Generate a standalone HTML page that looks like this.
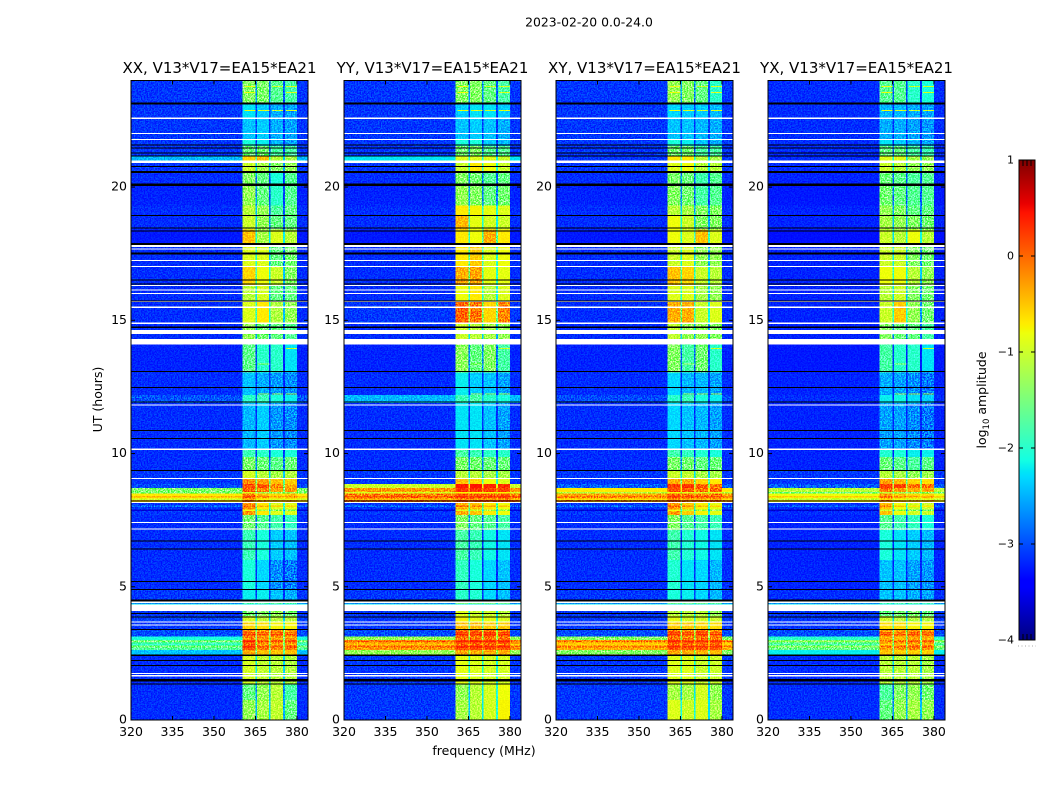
<!DOCTYPE html>
<html lang="en">
<head>
<meta charset="utf-8">
<title>2023-02-20 0.0-24.0</title>
<style>
html,body{margin:0;padding:0;background:#fff;width:1050px;height:800px;overflow:hidden}
svg{display:block}
text{font-family:"DejaVu Sans","Liberation Sans",sans-serif;fill:#000}
</style>
</head>
<body>
<svg id="figure" xmlns="http://www.w3.org/2000/svg" width="1050" height="800" viewBox="0 0 1050 800">
<defs>
<filter id="speckle" x="0" y="0" width="100%" height="100%" color-interpolation-filters="sRGB">
<feTurbulence type="fractalNoise" baseFrequency="0.7" numOctaves="2" seed="4"/>
<feColorMatrix type="matrix" values="1 0 0 0 0 1 0 0 0 0 1 0 0 0 0 0 0 0 0 1"/>
<feComponentTransfer><feFuncR type="linear" slope="3.5" intercept="-1.3"/><feFuncG type="linear" slope="3.5" intercept="-1.3"/><feFuncB type="linear" slope="3.5" intercept="-1.3"/></feComponentTransfer>
</filter>
<linearGradient id="jet-gradient" x1="0" y1="1" x2="0" y2="0">
<stop offset="0" stop-color="rgb(0,0,128)"/><stop offset="0.11" stop-color="rgb(0,0,255)"/><stop offset="0.125" stop-color="rgb(0,0,255)"/><stop offset="0.34" stop-color="rgb(0,219,255)"/><stop offset="0.35" stop-color="rgb(0,229,247)"/><stop offset="0.375" stop-color="rgb(20,255,226)"/><stop offset="0.64" stop-color="rgb(238,255,11)"/><stop offset="0.65" stop-color="rgb(247,245,0)"/><stop offset="0.66" stop-color="rgb(255,236,0)"/><stop offset="0.89" stop-color="rgb(255,18,0)"/><stop offset="0.91" stop-color="rgb(232,0,0)"/><stop offset="1" stop-color="rgb(128,0,0)"/>
</linearGradient>
</defs>
<text x="589" y="26.5" font-size="12.4" text-anchor="middle">2023-02-20 0.0-24.0</text>
<text x="484" y="755" font-size="12.5" text-anchor="middle">frequency (MHz)</text>
<text transform="translate(102 399.5) rotate(-90)" font-size="12.5" text-anchor="middle">UT (hours)</text>
<text transform="translate(986 400) rotate(-90)" font-size="12.5" text-anchor="middle">log<tspan font-size="8.5" dy="3">10</tspan><tspan dy="-3"> amplitude</tspan></text>
<g id="panels"></g>
<g id="colorbar">
<rect x="1019" y="160" width="16" height="480" fill="url(#jet-gradient)"/>
</g>
<line x1="1018" y1="646" x2="1036" y2="646" stroke="#aaa" stroke-width="1" stroke-dasharray="1 2.5"/>
</svg>
<script>
// Time-segment lower edges in UT hours (last entry closes the final segment)
const utEdges = [0,0.75,1.35,2.44,2.63,3.0,3.13,3.38,3.68,3.9,4.45,4.9,6.0,7.13,7.7,8.15,8.55,8.7,8.85,9.07,9.37,9.87,10.16,11.9,12.2,13.05,14.09,14.89,15.75,16.3,17.0,17.9,18.4,18.95,19.3,20.07,20.56,20.95,21.17,21.55,21.8,22.6,23.13,24];
// Frequency edges (MHz) of the sub-bands: background, band, gap, band, gap, band, gap, band, background
const freqEdges = [320,360.4,365.1,365.6,369.9,370.5,375,375.6,380,384];
const freqTicks = [320,335,350,365,380];
const utTicks = [0,5,10,15,20];
const colorTicks = [-4,-3,-2,-1,0,1];
const colorMin = -4;
const colorMax = 1;
const gapDrop = 1.2;
const panelKeys = ['xx','yy','xy','yx'];
const panelTitles = ['XX, V13*V17=EA15*EA21','YY, V13*V17=EA15*EA21','XY, V13*V17=EA15*EA21','YX, V13*V17=EA15*EA21'];
// log10 amplitude per time segment: [background, band1, band2, band3, band4]
const xxRows = [
[-3.15,-1.3,-1.2,-1.05,-1.6],[-3.15,-1.6,-1.3,-1.1,-1.8],[-3.15,-0.95,-1.05,-1.1,-1.15],[-2.4,-0.4,-0.5,-0.5,-0.5],
[-1.75,0.1,-0.15,-0.2,-0.15],[-2.1,-0.2,-0.3,-0.3,-0.3],[-3,-0.2,-0.3,-0.25,-0.3],[-3.1,-0.6,-0.65,-0.75,-0.75],
[-3.05,-0.95,-1.05,-1.1,-1.1],[-3.1,-1.5,-1.4,-1.3,-1.5],[-3.1,-2.2,-2.2,-2.4,-2.5],[-3.15,-2.1,-2.3,-2.65,-2.75],
[-3.15,-1.9,-2.1,-2.35,-2.4],[-3.15,-1.5,-1.7,-1.85,-1.95],[-3.1,-0.3,-0.7,-0.9,-0.9],[-0.7,-0.1,-0.45,-0.6,-0.5],
[-1.45,0,-0.2,-0.35,-0.3],[-3,0.1,0.05,-0.2,-0.4],[-3.1,-0.25,-0.35,-0.5,-0.55],[-3.1,-0.95,-1.1,-1.2,-1.15],
[-3.15,-1.45,-1.55,-1.65,-1.55],[-3.15,-1.9,-2,-2.1,-2.1],[-3.15,-2.45,-2.35,-2.6,-2.65],[-2.95,-2,-1.9,-2.1,-2.2],
[-3.15,-2.4,-2.5,-2.6,-2.65],[-3.2,-1.65,-2,-2,-2.25],[-3.15,-1.3,-1.5,-1.6,-1.7],[-3.15,-0.9,-0.7,-1.15,-1.3],
[-3.15,-1.1,-0.95,-1.6,-1.6],[-3.15,-0.6,-0.8,-1,-1.4],[-3.15,-0.9,-0.9,-1.6,-1.5],[-3.25,-0.5,-1.2,-0.9,-1.1],
[-3.15,-1,-1.3,-1.6,-1.6],[-3.15,-1.1,-1.3,-1.75,-1.6],[-3.2,-1.3,-1.6,-2,-1.7],[-3.15,-1.4,-1.6,-2.1,-1.7],
[-3.1,-1,-1.2,-1.4,-1.3],[-2.45,-0.6,-0.5,-1.1,-1.2],[-3.1,-1.55,-1.5,-1.8,-1.8],[-3.1,-2.1,-2.2,-2.45,-2.55],
[-3.1,-2.4,-2.35,-2.5,-2.55],[-3.1,-2.25,-2.35,-2.5,-2.55],[-3.1,-1.4,-1.45,-1.7,-1.8]
];
const yyRows = [
[-3.1,-1.2,-1.1,-0.95,-0.75],[-3.1,-1.3,-1.1,-0.95,-0.8],[-3.1,-0.85,-0.9,-0.95,-0.95],[-1.3,-0.35,-0.4,-0.4,-0.4],
[-0.3,0.1,0.15,0.1,0.1],[-1.3,-0.1,-0.1,-0.1,-0.1],[-3,-0.05,-0.1,-0.05,-0.1],[-3.1,-0.5,-0.5,-0.55,-0.55],
[-3.1,-0.75,-0.85,-0.85,-0.9],[-3.1,-0.9,-1,-1,-1.1],[-3.1,-2,-2.05,-2.3,-2.4],[-3.15,-1.95,-2.1,-2.3,-2.4],
[-3.15,-1.8,-1.9,-2.15,-2.25],[-3.15,-1.4,-1.6,-1.7,-1.8],[-3.1,-0.4,-0.5,-0.7,-0.8],[-0.15,0.05,0,0,0.05],
[-0.3,0.25,0.25,0.2,0.2],[-1,0.4,0.45,0.35,0.3],[-3.1,-0.5,-0.6,-0.8,-0.9],[-3.1,-1.1,-1.1,-1.2,-1.2],
[-3.15,-1.45,-1.5,-1.55,-1.55],[-3.15,-1.8,-1.9,-2,-2],[-3.15,-2.25,-2.25,-2.4,-2.55],[-2.45,-1.9,-1.8,-2,-2.1],
[-3.15,-2.2,-2.35,-2.4,-2.55],[-3.2,-1.35,-1.6,-1.4,-1.8],[-3.15,-1,-1.1,-1.2,-1.3],[-3.1,0,-0.1,-0.6,-0.2],
[-3.15,-0.8,-0.7,-1.1,-0.9],[-3.15,-0.4,-0.35,-0.85,-0.85],[-3.15,-0.7,-0.55,-0.9,-0.8],[-3.25,-0.7,-0.8,-0.4,-0.7],
[-3.15,-0.45,-0.85,-0.95,-1],[-3.15,-0.7,-0.75,-0.85,-0.9],[-3.2,-1.3,-1.4,-1.6,-1.5],[-3.15,-1.4,-1.5,-1.7,-1.6],
[-3.1,-1,-0.7,-0.8,-1],[-2.25,-0.9,-0.9,-0.9,-1],[-3.1,-1.5,-1.4,-1.7,-1.7],[-3.1,-2.1,-2.1,-2.35,-2.45],
[-3.1,-2.4,-2.35,-2.4,-2.5],[-3.1,-2.35,-2.25,-2.25,-2.35],[-3.1,-1.4,-1.4,-1.6,-1.8]
];
const xyRows = [
[-3.1,-0.9,-1,-0.9,-1.2],[-3.1,-1.2,-1.2,-0.95,-1.3],[-3.1,-0.9,-0.9,-1,-1],[-1.4,-0.35,-0.4,-0.4,-0.45],
[-0.4,0.1,0.05,0.05,0.05],[-1.4,-0.1,-0.2,-0.1,-0.15],[-3,-0.1,-0.2,-0.1,-0.2],[-3.1,-0.55,-0.55,-0.6,-0.65],
[-3.1,-0.85,-0.95,-0.95,-1],[-3.1,-1.1,-1.1,-1.1,-1.3],[-3.1,-2.1,-2.2,-2.3,-2.45],[-3.15,-2.05,-2.25,-2.3,-2.45],
[-3.15,-1.85,-2.05,-2.15,-2.25],[-3.15,-1.4,-1.7,-1.8,-1.9],[-3.1,-0.3,-0.55,-0.75,-0.85],[-0.35,0,-0.1,-0.15,-0.1],
[-0.7,0.1,0.05,-0.1,-0.05],[-2.9,0.2,0.25,0,-0.1],[-3.1,-0.4,-0.4,-0.6,-0.7],[-3.1,-1,-1.05,-1.2,-1.2],
[-3.15,-1.45,-1.5,-1.6,-1.55],[-3.15,-1.85,-1.95,-2.05,-2.1],[-3.15,-2.3,-2.4,-2.45,-2.55],[-3,-2,-1.9,-2.1,-2.2],
[-3.15,-2.3,-2.45,-2.45,-2.55],[-3.2,-1.4,-1.8,-1.5,-2],[-3.15,-1.05,-1.3,-1.3,-1.4],[-3.15,-0.4,-0.4,-1,-0.9],
[-3.15,-0.9,-0.9,-1.2,-1.3],[-3.15,-0.5,-0.6,-1,-1.1],[-3.15,-1,-0.9,-1.3,-1.3],[-3.25,-0.8,-0.9,-0.5,-0.9],
[-3.15,-0.8,-1,-1.4,-1.4],[-3.15,-1.1,-1.2,-1.4,-1.4],[-3.2,-1.4,-1.5,-1.8,-1.7],[-3.15,-1.45,-1.55,-1.85,-1.7],
[-3.1,-0.9,-0.8,-1.1,-1.1],[-3.1,-0.7,-0.7,-1.1,-1.2],[-3.1,-1.5,-1.5,-1.8,-1.8],[-3.1,-2.1,-2.2,-2.4,-2.5],
[-3.1,-2.4,-2.4,-2.45,-2.5],[-3.1,-2.3,-2.35,-2.35,-2.45],[-3.1,-1.3,-1.4,-1.6,-2]
];
const yxRows = [
[-3.15,-1.6,-1.3,-1.2,-1.3],[-3.15,-1.75,-1.4,-1.3,-1.5],[-3.15,-1.1,-1.1,-1.1,-1.2],[-2.2,-0.5,-0.55,-0.55,-0.55],
[-1.6,-0.35,-0.3,-0.2,-0.25],[-2,-0.4,-0.45,-0.35,-0.4],[-3,-0.3,-0.35,-0.25,-0.3],[-3.1,-0.65,-0.65,-0.75,-0.75],
[-3.1,-1,-1.1,-1.15,-1.15],[-3.1,-1.6,-1.5,-1.45,-1.6],[-3.15,-2.4,-2.4,-2.5,-2.55],[-3.2,-2.4,-2.4,-2.55,-2.6],
[-3.2,-2.1,-2.25,-2.35,-2.45],[-3.2,-1.7,-1.85,-1.95,-2.1],[-3.15,-0.5,-0.8,-0.95,-1],[-0.8,-0.3,-0.5,-0.6,-0.6],
[-1.1,-0.15,-0.3,-0.4,-0.35],[-2.9,0.2,0.2,-0.05,-0.1],[-3.1,-0.35,-0.45,-0.6,-0.65],[-3.1,-1.1,-1.2,-1.3,-1.25],
[-3.2,-1.55,-1.65,-1.75,-1.65],[-3.2,-2.05,-2.1,-2.2,-2.2],[-3.2,-2.55,-2.55,-2.65,-2.75],[-3.15,-2.2,-2.15,-2.25,-2.35],
[-3.2,-2.5,-2.55,-2.65,-2.75],[-3.25,-1.8,-2,-2,-2.25],[-3.2,-1.4,-1.55,-1.6,-1.8],[-3.2,-1,-0.55,-1.3,-1.5],
[-3.2,-1.1,-1,-1.4,-1.5],[-3.2,-0.8,-0.8,-1.1,-1.3],[-3.2,-1,-1,-1.4,-1.5],[-3.3,-1,-1.1,-0.8,-1.1],
[-3.2,-1.2,-1.3,-1.4,-1.5],[-3.2,-1.3,-1.4,-1.6,-1.6],[-3.25,-1.5,-1.6,-1.7,-1.7],[-3.2,-1.55,-1.65,-1.75,-1.7],
[-3.15,-1,-1.1,-1.3,-1.3],[-3.15,-0.9,-0.9,-1.2,-1.3],[-3.15,-1.6,-1.6,-1.8,-1.9],[-3.15,-2.25,-2.35,-2.45,-2.55],
[-3.15,-2.5,-2.5,-2.55,-2.6],[-3.15,-2.45,-2.45,-2.5,-2.55],[-3.15,-1.7,-1.7,-2,-2.1]
];
const panelRows = [xxRows, yyRows, xyRows, yxRows];
// Narrow interference streaks: UT hour, frequency span (MHz), log10 amplitude
const rfiHours = [23.16,23.16,23.78,23.78,23.78,23.55,23.55,22.88,22.88,22.88,22.88,13.95,13.36,12.23,12.23,12.23,4.36];
const rfiLows = [320,351,361,371,376,361,376,361,366,371,376,376,366,366,371,376,320];
const rfiHighs = [335,356,365,375,380,365,380,365,370,375,380,380,370,370,375,380,384];
const rfiLevels = [-0.9,-1.4,-0.8,-1,-0.9,-0.8,-0.9,-0.8,-0.9,-1,-0.9,-1,-1.3,-1.2,-1.2,-1.2,-2.2];
// Thin row-wide stripes: UT hour and amplitude change relative to the surrounding segment
const stripeHours = [8.52,8.38,8.29,8.22,8.03,7.88,3.27,3.2,2.96,2.85,2.74];
const stripeShifts = [-0.8,0.25,-0.3,0.2,0.3,-0.5,0.3,0.4,0.3,-0.2,0.25];
// Flagged intervals in UT hours: no data drawn white, zero data drawn black
const blankStarts = [22.56,21.99,21.77,20.90,17.76,17.66,17.23,17.00,16.29,16.11,15.98,15.69,15.47,14.87,14.48,14.09,11.80,10.14,9.05,8.15,7.40,7.14,4.39,4.10,3.65,3.54,1.73,1.64];
const blankEnds = [22.62,22.03,21.81,20.99,17.84,17.70,17.27,17.04,16.33,16.15,16.02,15.73,15.51,14.91,14.63,14.30,11.84,10.18,9.09,8.19,7.44,7.18,4.44,4.33,3.69,3.58,1.77,1.68];
const zeroStarts = [23.09,21.56,21.45,21.26,21.14,20.76,20.52,20.05,18.92,18.44,18.33,17.83,17.47,16.50,16.34,15.71,14.72,13.06,12.46,11.91,10.85,10.55,9.35,8.20,6.69,6.39,5.18,4.88,4.44,3.97,3.84,3.37,2.41,2.21,2.02,1.45,1.33];
const zeroEnds = [23.17,21.60,21.49,21.30,21.18,20.80,20.60,20.13,18.96,18.48,18.37,17.91,17.55,16.54,16.38,15.75,14.76,13.10,12.50,11.95,10.89,10.59,9.39,8.24,6.73,6.43,5.22,4.92,4.52,4.01,3.88,3.41,2.45,2.25,2.06,1.53,1.37];

const NS = 'http://www.w3.org/2000/svg';
const panelLefts = [131,344,556,768];
const plotWidth = 177;
const plotTop = 80.5;
const plotBottom = 720;
const root = document.getElementById('panels');

function make(parent, tag, attrs, text) {
  const el = document.createElementNS(NS, tag);
  for (const k in attrs) el.setAttribute(k, attrs[k]);
  if (text !== undefined) el.textContent = text;
  parent.appendChild(el);
  return el;
}
function yOf(ut) { return plotBottom - (ut / 24) * (plotBottom - plotTop); }
function xScale(left) { return function (f) { return left + ((f - 320) / 64) * plotWidth; }; }
function lerpStops(stops, p) {
  for (let i = 1; i < stops.length; i++) {
    if (p <= stops[i][0]) {
      const t = (p - stops[i - 1][0]) / (stops[i][0] - stops[i - 1][0]);
      return stops[i - 1][1] + t * (stops[i][1] - stops[i - 1][1]);
    }
  }
  return stops[stops.length - 1][1];
}
const jetR = [[0,0],[0.35,0],[0.66,1],[0.89,1],[1,0.5]];
const jetG = [[0,0],[0.125,0],[0.375,1],[0.64,1],[0.91,0],[1,0]];
const jetB = [[0,0.5],[0.11,1],[0.34,1],[0.65,0],[1,0]];
function colorOf(v) {
  const p = Math.max(0, Math.min(1, (v - colorMin) / (colorMax - colorMin)));
  return 'rgb(' + Math.round(255 * lerpStops(jetR, p)) + ',' + Math.round(255 * lerpStops(jetG, p)) + ',' + Math.round(255 * lerpStops(jetB, p)) + ')';
}
function columnLevels(row) {
  const gap = function (a, b) { return Math.max(row[0], (a + b) / 2 - gapDrop); };
  return [row[0], row[1], gap(row[1], row[2]), row[2], gap(row[2], row[3]), row[3], gap(row[3], row[4]), row[4], row[0]];
}
function rowIndexAt(h) {
  for (let i = 0; i < utEdges.length - 1; i++) {
    if (h >= utEdges[i] && h < utEdges[i + 1]) return i;
  }
  return utEdges.length - 2;
}

panelKeys.forEach(function (key, pi) {
  const left = panelLefts[pi];
  const xOf = xScale(left);
  const rows = panelRows[pi];
  const g = make(root, 'g', {});
  
  

  const cells = make(g, 'g', { 'shape-rendering': 'crispEdges' });
  
  
  rows.forEach(function (row, ri) {
    const levels = columnLevels(row);
    const yTop = yOf(utEdges[ri + 1]);
    const yBottom = yOf(utEdges[ri]);
    levels.forEach(function (v, ci) {
      const x0 = xOf(freqEdges[ci]);
      const x1 = xOf(freqEdges[ci + 1]);
      const cell = make(cells, 'rect', { x: x0, y: yTop, width: x1 - x0, height: yBottom - yTop, fill: colorOf(v) });
      
      
    });
  });

  stripeHours.forEach(function (h, i) {
    const levels = columnLevels(rows[rowIndexAt(h)]);
    levels.forEach(function (v, ci) {
      const isBackground = ci === 0 || ci === 8;
      const level = (isBackground && h > 3 && h < 3.38) ? v : v + stripeShifts[i];
      const x0 = xOf(freqEdges[ci]);
      const x1 = xOf(freqEdges[ci + 1]);
      const stripe = make(cells, 'rect', { x: x0, y: yOf(h) - 0.75, width: x1 - x0, height: 1.5, fill: colorOf(level) });
      
      
    });
  });

  rfiHours.forEach(function (h, i) {
    const x0 = xOf(rfiLows[i]);
    const x1 = xOf(rfiHighs[i]);
    const streak = make(cells, 'rect', { x: x0, y: yOf(h) - 0.5, width: x1 - x0, height: 1, fill: colorOf(rfiLevels[i]) });
    
    
  });

  const noise = make(g, 'rect', { x: left, y: plotTop, width: plotWidth, height: plotBottom - plotTop, filter: 'url(#speckle)', opacity: '0.75', style: 'mix-blend-mode:overlay' });
  
  

  const flags = make(g, 'g', { 'shape-rendering': 'crispEdges' });
  
  
  blankStarts.forEach(function (s, i) {
    const yA = yOf(blankEnds[i]);
    const band = make(flags, 'rect', { x: left, y: yA, width: plotWidth, height: yOf(s) - yA, fill: '#fff' });
    
    
  });
  zeroStarts.forEach(function (s, i) {
    const yA = yOf(zeroEnds[i]);
    const band = make(flags, 'rect', { x: left, y: yA, width: plotWidth, height: yOf(s) - yA, fill: '#000' });
    
    
  });

  const frame = make(g, 'rect', { x: left, y: plotTop, width: plotWidth, height: plotBottom - plotTop, fill: 'none', stroke: '#000', 'stroke-width': 1 });
  
  

  freqTicks.forEach(function (f) {
    const x = xOf(f);
    const bottomTick = make(g, 'line', { x1: x, y1: plotBottom, x2: x, y2: plotBottom - 4, stroke: '#000' });
    
    
    const topTick = make(g, 'line', { x1: x, y1: plotTop, x2: x, y2: plotTop + 4, stroke: '#000' });
    
    
    const label = make(g, 'text', { x: x, y: 736, 'font-size': 12.5, 'text-anchor': 'middle' }, String(f));
    
    
  });
  utTicks.forEach(function (u) {
    const y = yOf(u);
    const leftTick = make(g, 'line', { x1: left, y1: y, x2: left + 4, y2: y, stroke: '#000' });
    
    
    const rightTick = make(g, 'line', { x1: left + plotWidth, y1: y, x2: left + plotWidth - 4, y2: y, stroke: '#000' });
    
    
    const label = make(g, 'text', { x: left - 4, y: y + 3.5, 'font-size': 12.5, 'text-anchor': 'end' }, String(u));
    
    
  });
  const title = make(g, 'text', { x: left + plotWidth / 2, y: 73, 'font-size': 15, 'text-anchor': 'middle' }, panelTitles[pi]);
  
  
});

const bar = document.getElementById('colorbar');
const barFrame = make(bar, 'rect', { x: 1019, y: 160, width: 16, height: 480, fill: 'none', stroke: '#000' });


function barY(v) { return 640 - ((v - colorMin) / (colorMax - colorMin)) * 480; }
colorTicks.forEach(function (v) {
  const y = barY(v);
  const tickA = make(bar, 'line', { x1: 1019, y1: y, x2: 1023, y2: y, stroke: '#000' });
  
  
  const tickB = make(bar, 'line', { x1: 1035, y1: y, x2: 1031, y2: y, stroke: '#000' });
  
  
  const label = make(bar, 'text', { x: 1014, y: y + 3.5, 'font-size': 11, 'text-anchor': 'end' }, (v < 0 ? '\u2212' + (-v) : String(v)));
  
  
});
[1023, 1027, 1031].forEach(function (x) {
  const upper = make(bar, 'line', { x1: x, y1: 160, x2: x, y2: 166, stroke: '#000' });
  
  
  const lower = make(bar, 'line', { x1: x, y1: 640, x2: x, y2: 634, stroke: '#000' });
  
  
});
</script>
</body>
</html>
